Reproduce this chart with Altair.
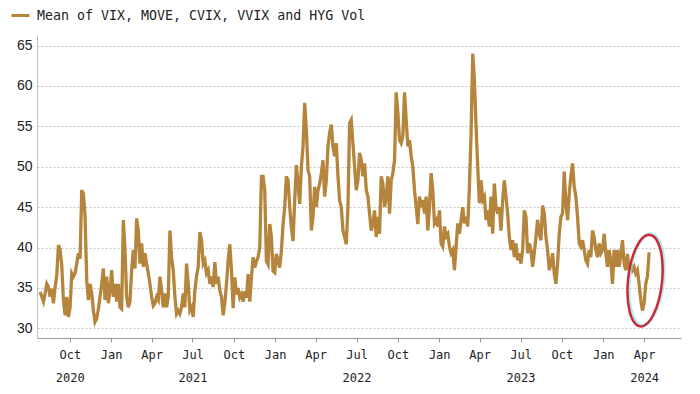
import altair as alt
import pandas as pd

series_name = "Mean of VIX, MOVE, CVIX, VVIX and HYG Vol"
line_color = "#B5853D"

# sampling grid (evenly spaced readings between these two dates)
first_date = "2020-07-27"
last_date = "2024-04-12"

# values, in order
seg_2020 = [34.5, 33.9, 33.3, 34.3, 35.5, 35.1, 33.9, 34.9, 33.1, 35.1, 36.6, 40.3, 39.7, 37.8, 33.5,
            31.6, 33.9, 31.4, 32.6, 36.8, 36.4, 36.8, 38.0, 39.3, 38.6, 47.1, 46.7, 43.8, 35.9, 33.5,
            35.5, 34.3, 32.2, 30.8, 31.2, 32.4, 33.9, 35.5, 37.4, 33.5, 36.4, 33.1, 34.7, 37.2, 33.9,
            35.5, 33.3, 35.5, 32.6, 32.4, 43.4, 39.7, 33.9, 32.6, 33.3]
seg_2021 = [37.2, 39.7, 37.4, 43.6, 42.1, 38.0, 40.5, 37.6, 39.3, 38.0, 36.8, 35.5, 33.9, 32.8, 33.1,
            33.9, 33.5, 36.4, 34.7, 32.6, 34.3, 32.6, 33.9, 42.1, 38.8, 37.2, 33.9, 31.8, 32.2, 31.8,
            32.6, 34.3, 32.6, 38.0, 35.5, 32.2, 32.6, 31.4, 34.7, 36.4, 37.6, 41.9, 40.9, 38.0, 38.4,
            36.8, 37.2, 35.5, 36.4, 35.1, 38.2, 35.5, 36.4, 34.7, 33.9, 31.6, 33.1, 35.5, 38.4]
seg_2021b = [40.4, 37.1, 32.5, 36.3, 34.2, 35.0, 33.8, 34.2, 33.3, 34.6, 33.8, 36.7, 33.3, 36.3, 38.8,
             37.5, 38.3, 38.8, 40.0, 48.8, 48.8, 47.1, 38.3, 37.9, 42.9, 41.3, 37.1, 36.9, 39.2, 38.3,
             37.5, 39.6, 42.9, 45.0, 48.8, 48.3, 45.0, 42.5, 40.8, 45.8, 50.2, 47.9, 45.4, 50.0, 52.5,
             57.9, 54.6, 49.6, 48.8, 42.1, 43.8, 47.5, 45.0, 47.1, 47.9, 49.2, 50.8]
seg_2022 = [46.3, 48.3, 52.5, 54.2, 55.2, 52.5, 51.3, 52.9, 48.8, 45.8, 45.0, 42.1, 41.3, 40.4, 45.0,
            55.4, 55.8, 52.9, 50.0, 47.1, 48.3, 51.7, 50.8, 48.8, 50.4, 47.1, 46.3, 44.2, 42.1, 42.9,
            44.6, 41.3, 43.8, 41.7, 48.8, 47.9, 45.0, 46.3, 48.8, 44.2, 48.3, 49.2, 50.8, 59.2, 56.7,
            53.3, 52.9, 53.8, 59.2, 55.8, 52.5, 53.3, 51.3, 50.0, 47.1, 45.0, 42.9]
seg_2023 = [46.3, 45.0, 45.9, 44.2, 46.3, 42.1, 45.0, 49.2, 47.1, 43.0, 43.4, 42.6, 44.6, 40.5, 40.1,
            42.6, 41.4, 41.7, 40.1, 39.3, 39.7, 37.2, 40.1, 43.0, 41.7, 43.4, 45.0, 43.0, 43.8, 42.6,
            47.5, 54.1, 64.0, 60.7, 55.0, 50.0, 45.5, 48.3, 45.9, 46.3, 43.4, 44.6, 42.6, 46.3, 41.7,
            47.9, 45.0, 44.2, 45.0, 42.1, 45.9, 48.3, 46.3, 44.2, 41.3, 39.7, 40.9]
seg_2023b = [38.8, 40.5, 38.4, 39.3, 38.0, 39.7, 44.6, 43.8, 39.3, 40.5, 39.7, 37.6, 39.3, 41.3, 43.4,
             41.7, 40.9, 45.2, 44.2, 41.3, 39.7, 37.2, 38.0, 39.3, 36.8, 35.5, 38.0, 41.7, 43.8, 44.2,
             49.4, 45.5, 43.4, 46.7, 48.8, 50.4, 47.5, 46.3, 43.8, 40.5, 40.1, 40.9, 39.7, 38.4, 38.0,
             39.7, 38.8, 42.1, 41.3, 39.7, 38.8, 40.5, 39.3, 39.7, 41.7, 39.3, 37.6]
seg_2024 = [39.7, 38.4, 35.5, 39.7, 37.6, 39.7, 37.6, 39.2, 40.9, 38.0, 37.2, 39.2, 37.2, 38.0, 37.2,
            37.6, 36.8, 37.2, 35.5, 33.5, 32.2, 33.1, 35.5, 36.4, 39.4]

values = seg_2020 + seg_2021 + seg_2021b + seg_2022 + seg_2023 + seg_2023b + seg_2024
dates = pd.date_range(first_date, last_date, periods=len(values))
df = pd.DataFrame({
    "date": dates.strftime("%Y-%m-%dT%H:%M:%SZ"),
    "value": values,
    "series": series_name,
})

# highlighted region (red ellipse)
ell_dates = ["2024-04-03T00:00:00Z"]
ell_values = [35.9]
ell_df = pd.DataFrame({"date": ell_dates, "value": ell_values})
ell_path = "M0,-1 A0.37,1 0 1,1 0,1 A0.37,1 0 1,1 0,-1 Z"

y_ticks = [30, 35, 40, 45, 50, 55, 60, 65]
tick_months = [(2020, 10), (2021, 1), (2021, 4), (2021, 7), (2021, 10), (2022, 1), (2022, 4),
               (2022, 7), (2022, 10), (2023, 1), (2023, 4), (2023, 7), (2023, 10), (2024, 1), (2024, 4)]
x_ticks = [alt.DateTime(year=y, month=m, date=1, utc=True) for y, m in tick_months]
x_domain = [alt.DateTime(year=2020, month=7, date=20, utc=True),
            alt.DateTime(year=2024, month=6, date=22, utc=True)]

label_expr = (
    "[utcFormat(datum.value, '%b'), "
    "(utcFormat(datum.value, '%Y-%m') == '2020-10' || utcFormat(datum.value, '%Y-%m') == '2024-04' "
    "|| utcFormat(datum.value, '%m') == '07') ? utcFormat(datum.value, '%Y') : '']"
)

x_enc = alt.X(
    "date:T",
    scale=alt.Scale(type="utc", domain=x_domain),
    axis=alt.Axis(
        values=x_ticks, labelExpr=label_expr, title=None, grid=False, tickSize=4,
        tickColor="#9a9a9a", domainColor="#9a9a9a", labelFont="DejaVu Sans Mono",
        labelFontSize=12, labelColor="#222222", labelLineHeight=23, labelPadding=7,
        labelAngle=0, labelOverlap=False, labelFlush=False,
    ),
)
y_enc = alt.Y(
    "value:Q",
    scale=alt.Scale(domain=[28.8, 66.3], nice=False, zero=False),
    axis=alt.Axis(
        values=y_ticks, title=None, grid=True, gridDash=[2, 2], gridColor="#c4c4c4",
        ticks=False, domainColor="#c0c0c0", labelFont="Liberation Sans", labelFontSize=14,
        labelColor="#222222", labelPadding=5,
    ),
)

line = alt.Chart(df).mark_line(strokeWidth=3.3).encode(
    x=x_enc,
    y=y_enc,
    color=alt.Color(
        "series:N",
        scale=alt.Scale(range=[line_color]),
        legend=alt.Legend(
            orient="none", legendX=-27, legendY=-30, title=None, symbolType="stroke",
            symbolSize=324, symbolStrokeWidth=3, labelFont="DejaVu Sans Mono",
            labelFontSize=13.3, labelColor="#222222", labelOffset=6, padding=0, labelLimit=600,
        ),
    ),
)

glow = alt.Chart(ell_df).mark_point(
    shape=ell_path, size=8464, filled=False, stroke="#8fe3ee", strokeWidth=3,
    opacity=0.7, angle=6, xOffset=1.5, yOffset=-1,
).encode(x="date:T", y="value:Q")

ellipse = alt.Chart(ell_df).mark_point(
    shape=ell_path, size=8464, filled=False, stroke="#cc2a36", strokeWidth=2.5,
    opacity=1, angle=6,
).encode(x="date:T", y="value:Q")

chart = alt.layer(line, glow, ellipse).properties(
    width=644, height=303,
    padding={"left": 29, "top": 27, "right": 11, "bottom": 48},
    autosize=alt.AutoSizeParams(type="none"),
).configure(background="white", view=alt.ViewConfig(stroke=None))

chart.save("out.html", embed_options={"renderer": "svg", "actions": False})
